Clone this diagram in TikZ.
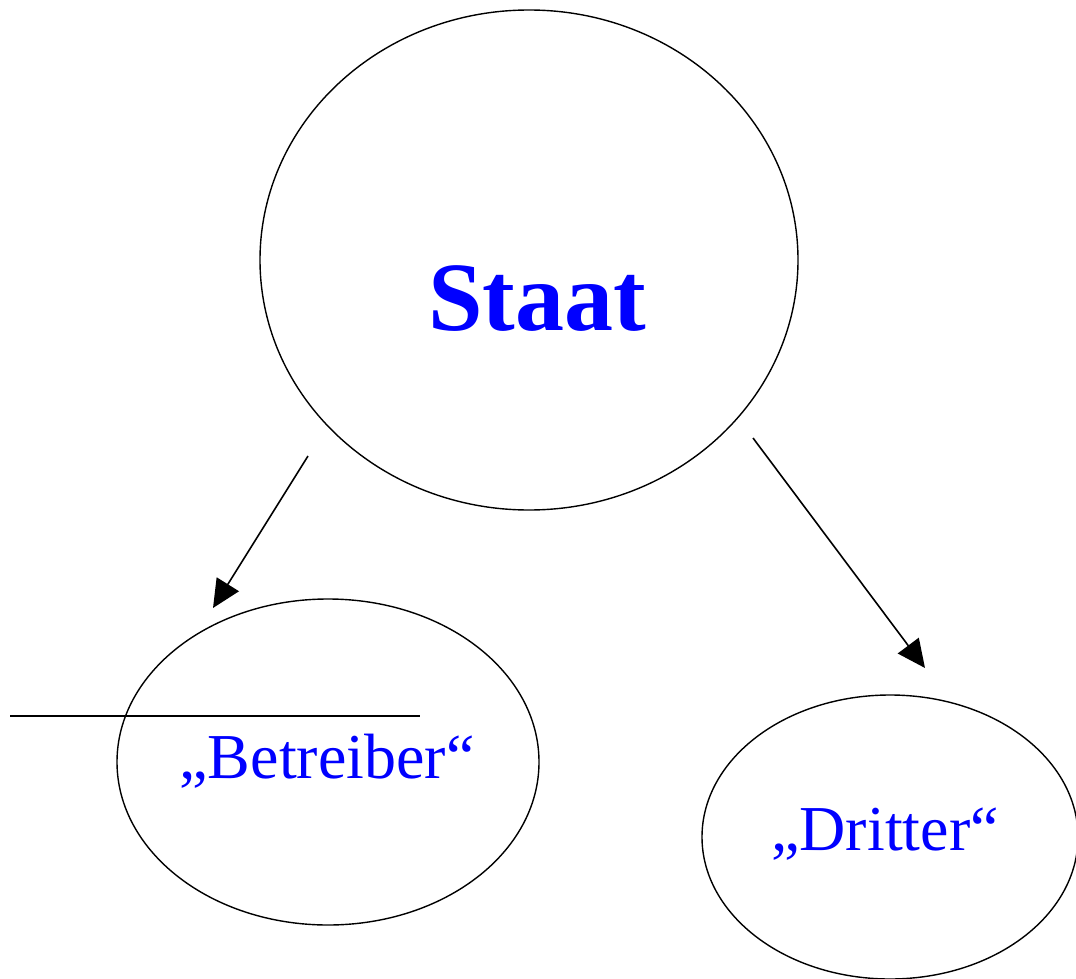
\documentclass[tikz,border=0pt]{standalone}
\usepackage{fontspec}
\setmainfont{Liberation Serif}
\usetikzlibrary{shapes.geometric,arrows.meta}
\definecolor{txtblue}{RGB}{0,0,255}
\tikzset{
  oval/.style={draw=black,line width=1.4pt,ellipse,inner sep=0pt},
  conn/.style={line width=1.6pt,-{Triangle[length=28pt,width=26pt]}},
  lbl/.style={text=txtblue,inner sep=0pt,anchor=base}
}
\begin{document}
\begin{tikzpicture}[x=1pt,y=-1pt]
\useasboundingbox (0,0) rectangle (1076,979);
\begin{scope}
\clip (0,0) rectangle (1076,979);
\node[oval,minimum width=538pt,minimum height=500pt] (staat) at (529,260) {};
\node[oval,minimum width=422pt,minimum height=326pt] (betr) at (328,762) {};
\node[oval,minimum width=376pt,minimum height=284pt] (dritt) at (890,837) {};
\end{scope}
\node[lbl,font=\fontsize{98}{104}\selectfont\bfseries] (tstaat) at (537,330) {Staat};
\node[lbl,font=\fontsize{64}{70}\selectfont] (tbetr) at (327,778) {„Betreiber“};
\node[lbl,font=\fontsize{64}{70}\selectfont] (tdritt) at (885,850) {„Dritter“};
\coordinate (s1) at (308,456);
\coordinate (e1) at (213,608);
\coordinate (s2) at (753,438);
\coordinate (e2) at (925,668);
\draw[conn] (s1) -- (e1);
\draw[conn] (s2) -- (e2);
\coordinate (h1) at (10,716);
\coordinate (h2) at (420,716);
\draw[line width=2pt] (h1) -- (h2);
\end{tikzpicture}
\end{document}
